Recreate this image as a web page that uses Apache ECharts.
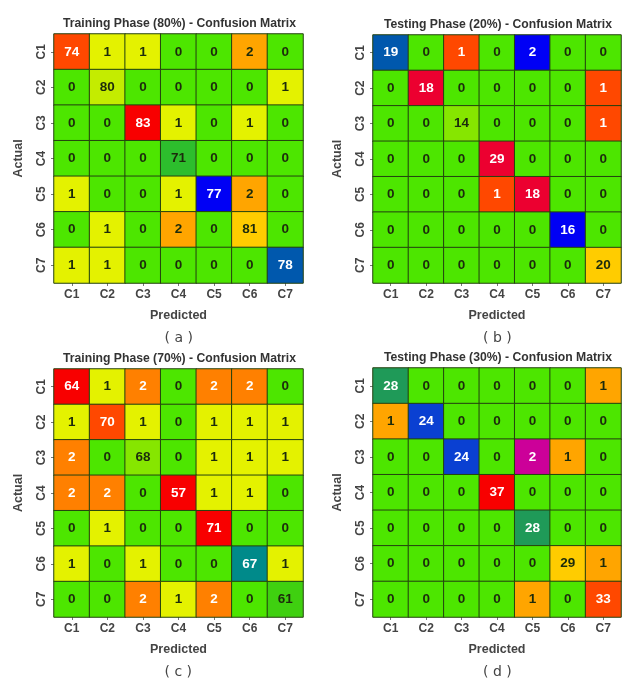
<!DOCTYPE html>
<html><head><meta charset="utf-8">
<script src="https://cdn.jsdelivr.net/npm/echarts@6/dist/echarts.min.js"></script>
<style>html,body{margin:0;padding:0;background:#fff}#c{width:625px;height:682px}</style>
</head><body><div id="c"></div>
<script>
const classes = ['C1','C2','C3','C4','C5','C6','C7'];
const panelTitles = [
  'Training Phase (80%) - Confusion Matrix',
  'Testing Phase (20%) - Confusion Matrix',
  'Training Phase (70%) - Confusion Matrix',
  'Testing Phase (30%) - Confusion Matrix'
];
const panelCaptions = ['( a )','( b )','( c )','( d )'];
// rows = Actual C1..C7, columns = Predicted C1..C7
const train80 = [
  [74,1,1,0,0,2,0],
  [0,80,0,0,0,0,1],
  [0,0,83,1,0,1,0],
  [0,0,0,71,0,0,0],
  [1,0,0,1,77,2,0],
  [0,1,0,2,0,81,0],
  [1,1,0,0,0,0,78]
];
const test20 = [
  [19,0,1,0,2,0,0],
  [0,18,0,0,0,0,1],
  [0,0,14,0,0,0,1],
  [0,0,0,29,0,0,0],
  [0,0,0,1,18,0,0],
  [0,0,0,0,0,16,0],
  [0,0,0,0,0,0,20]
];
const train70 = [
  [64,1,2,0,2,2,0],
  [1,70,1,0,1,1,1],
  [2,0,68,0,1,1,1],
  [2,2,0,57,1,1,0],
  [0,1,0,0,71,0,0],
  [1,0,1,0,0,67,1],
  [0,0,2,1,2,0,61]
];
const test30 = [
  [28,0,0,0,0,0,1],
  [1,24,0,0,0,0,0],
  [0,0,24,0,2,1,0],
  [0,0,0,37,0,0,0],
  [0,0,0,0,28,0,0],
  [0,0,0,0,0,29,1],
  [0,0,0,0,1,0,33]
];
// colour codes per cell (style, kept apart from the values)
const shade80 = ['RYYGGOG','GLGGGGY','GGrYGYG','GGGDGGG','YGGYBOG','GYGOGQG','YYGGGGb'];
const shade20 = ['bGRGBGG','GcGGGGR','GGlGGGR','GGGcGGG','GGGRcGG','GGGGGBG','GGGGGGQ'];
const shade70 = ['rYoGooG','YRYGYYY','oGlGYYY','ooGrYYG','GYGGrGG','YGYGGtY','GGoYoGd'];
const shade30 = ['sGGGGGO','OnGGGGG','GGnGmOG','GGGrGGG','GGGGsGG','GGGGGQO','GGGGOGR'];

const DARK = '#1c2b0c', WHITE = '#ffffff';
const palette = {
  G:['#4de600',DARK], Y:['#e4f200',DARK], L:['#c4ec00',DARK], l:['#86e600',DARK],
  O:['#ffa500',DARK], o:['#ff8000',WHITE], Q:['#ffcc00',DARK], R:['#ff4800',WHITE],
  r:['#f80000',WHITE], c:['#ec0030',WHITE], B:['#0000f5',WHITE], b:['#0058ad',WHITE],
  n:['#0a40d2',WHITE], D:['#2dbe2d',DARK], d:['#3fd010',DARK], s:['#1f9a58',WHITE],
  t:['#008a8a',WHITE], m:['#cc0099',WHITE]
};

const matrices = [train80, test20, train70, test30];
const shades = [shade80, shade20, shade70, shade30];
const grids = [
  {left:54, top:34, width:249, height:249},
  {left:373, top:35, width:248, height:248},
  {left:54, top:369, width:249, height:248},
  {left:373, top:368, width:248, height:249}
];
const FONT = 'Liberation Sans, Arial, sans-serif';

const option = {animation:false, textStyle:{fontFamily:FONT}, title:[], grid:[], xAxis:[], yAxis:[], series:[], graphic:[]};
grids.forEach((g,i)=>{
  option.grid.push(g);
  option.title.push({text:panelTitles[i], left:g.left+g.width/2-4, top:g.top-21, textAlign:'center',
    textStyle:{fontSize:12.2, fontWeight:'bold', color:'#333', fontFamily:FONT}});
  option.xAxis.push({type:'category', gridIndex:i, data:classes, position:'bottom',
    name:'Predicted', nameLocation:'middle', nameGap:26,
    nameTextStyle:{fontSize:12.5, fontWeight:'bold', color:'#444'},
    axisLine:{show:false}, axisTick:{show:true, length:3, alignWithLabel:true, lineStyle:{color:'#777'}},
    axisLabel:{fontSize:12, fontWeight:'bold', color:'#444', margin:6}, splitLine:{show:false}});
  option.yAxis.push({type:'category', gridIndex:i, data:classes, inverse:true,
    name:'Actual', nameLocation:'middle', nameGap:29, nameRotate:90,
    nameTextStyle:{fontSize:12.5, fontWeight:'bold', color:'#444'},
    axisLine:{show:false}, axisTick:{show:true, length:3, alignWithLabel:true, lineStyle:{color:'#777'}},
    axisLabel:{fontSize:12, fontWeight:'bold', color:'#444', rotate:90, margin:6}, splitLine:{show:false}});
  const data = [];
  matrices[i].forEach((row,r)=>row.forEach((v,c)=>{
    const p = palette[shades[i][r][c]];
    data.push({value:[c,r,v], itemStyle:{color:p[0]}, label:{color:p[1]}});
  }));
  option.series.push({type:'heatmap', xAxisIndex:i, yAxisIndex:i, data:data,
    itemStyle:{borderColor:'#24420f', borderWidth:1},
    label:{show:true, fontSize:13.5, fontWeight:'bold', fontFamily:FONT},
    emphasis:{disabled:true}});
  option.graphic.push({type:'text', left:g.left+g.width/2-14, top:(i<2?331:665),
    style:{text:panelCaptions[i], fontSize:14, fill:'#444', fontFamily:'DejaVu Sans, sans-serif'}});
});
const chart = echarts.init(document.getElementById('c'), null, {renderer:'canvas'});
chart.setOption(option);
</script></body></html>
